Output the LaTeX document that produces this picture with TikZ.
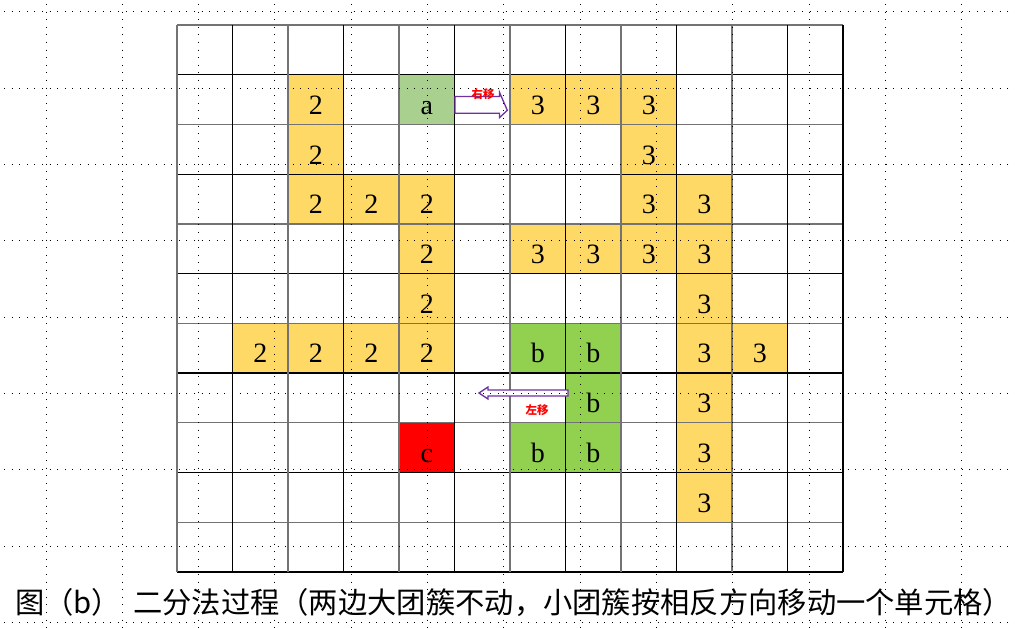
\documentclass[tikz,border=0pt]{standalone}
\usepackage{fontspec}
\setmainfont{Liberation Serif}
\newfontfamily\cjk{Noto Sans CJK SC}
\usetikzlibrary{calc}
\definecolor{yel}{HTML}{FFD966}
\definecolor{lgreen}{HTML}{A9D08E}
\definecolor{bgreen}{HTML}{92D050}
\definecolor{purp}{HTML}{7030A0}
\definecolor{gline}{HTML}{737373}
\tikzset{
  cellbox/.style={draw=none, minimum width=55.5pt, minimum height=49.73pt, inner sep=0pt, outer sep=0pt},
  ycell/.style={cellbox, fill=yel},
  acell/.style={cellbox, fill=lgreen},
  bcell/.style={cellbox, fill=bgreen},
  ccell/.style={cellbox, fill=red},
  celltext/.style={anchor=base, font=\fontsize{28}{30}\selectfont, inner sep=0pt},
  hollow/.style={draw=purp, line width=1.3pt, fill=white, line join=miter},
  dotline/.style={black, line width=1pt, dash pattern=on 1pt off 6.6pt},
  mvlabel/.style={font=\cjk\bfseries\fontsize{11.5}{12}\selectfont, text=red, inner sep=0pt},
  gridg/.style={gline, line width=1.2pt},
  gridk/.style={black, line width=1.2pt},
}
\begin{document}
\begin{tikzpicture}[x=1pt,y=-1pt]
\useasboundingbox (0,0) rectangle (1015,628);
\fill[white] (0,0) rectangle (1015,628);
% coloured cells
\foreach \r/\c/\s in {
  1/2/ycell, 2/2/ycell, 3/2/ycell, 3/3/ycell, 3/4/ycell, 4/4/ycell, 5/4/ycell,
  6/1/ycell, 6/2/ycell, 6/3/ycell, 6/4/ycell,
  1/6/ycell, 1/7/ycell, 1/8/ycell, 2/8/ycell, 3/8/ycell, 3/9/ycell,
  4/6/ycell, 4/7/ycell, 4/8/ycell, 4/9/ycell, 5/9/ycell, 6/9/ycell, 6/10/ycell,
  7/9/ycell, 8/9/ycell, 9/9/ycell,
  1/4/acell,
  6/6/bcell, 6/7/bcell, 7/7/bcell, 8/6/bcell, 8/7/bcell,
  8/4/ccell} {
  \node[\s] (r\r-\c) at ({177+55.5*(\c+0.5)},{25+49.727*(\r+0.5)}) {};
}
% grid
\foreach \i in {0,2,...,10} \draw[gridg] (177,{25+49.727*\i}) -- (843,{25+49.727*\i});
\foreach \i in {1,3,...,11} \draw[gridk] (177,{25+49.727*\i}) -- (843,{25+49.727*\i});
\foreach \j in {0,2,...,10} \draw[gridg] ({177+55.5*\j},25) -- ({177+55.5*\j},572);
\foreach \j in {1,3,...,11,12} \draw[gridk] ({177+55.5*\j},25) -- ({177+55.5*\j},572);
% cell texts
\foreach \r/\c/\t in {
  1/2/2, 2/2/2, 3/2/2, 3/3/2, 3/4/2, 4/4/2, 5/4/2, 6/1/2, 6/2/2, 6/3/2, 6/4/2,
  1/6/3, 1/7/3, 1/8/3, 2/8/3, 3/8/3, 3/9/3, 4/6/3, 4/7/3, 4/8/3, 4/9/3, 5/9/3, 6/9/3, 6/10/3,
  7/9/3, 8/9/3, 9/9/3,
  1/4/a, 6/6/b, 6/7/b, 7/7/b, 8/6/b, 8/7/b, 8/4/c} {
  \node[celltext] (t\r-\c) at ($(r\r-\c.center)+(0,14.7)$) {\t};
}
% move arrows
\coordinate (ra) at ([xshift=0.5pt]r1-4.east);
\coordinate (rb) at (507.3,110.3);
\draw[hollow] ([yshift=3pt]ra) -- ++(44.5,0) -- ++(0,-4.3) -- (rb) -- ++(-7.8,7.3) -- ++(0,-4.3) -- ++(-44.5,0) -- cycle;
\node[mvlabel] (lr) at (483,94) {右移};
\coordinate (la) at (568,393);
\coordinate (lb) at (479,393);
\draw[hollow] ([yshift=3pt]la) -- ++(-80,0) -- ++(0,-3) -- (lb) -- ++(9,6) -- ++(0,-3) -- ++(80,0) -- cycle;
\node[mvlabel] (ll) at (537,410) {左移};
% caption
\node[anchor=west, inner sep=0pt, font=\cjk\fontsize{29.3}{31}\selectfont] (cap) at (15,603)
  {图（b）\hspace{12pt}二分法过程（两边大团簇不动，小团簇按相反方向移动一个单元格）};
% background dotted guides
\foreach \k in {0,...,12} \draw[dotline] ({46+76.3*\k},4) -- ({46+76.3*\k},628);
\foreach \k in {0,...,8} \draw[dotline] (4,{12+76.3*\k}) -- (1015,{12+76.3*\k});
\end{tikzpicture}
\end{document}
